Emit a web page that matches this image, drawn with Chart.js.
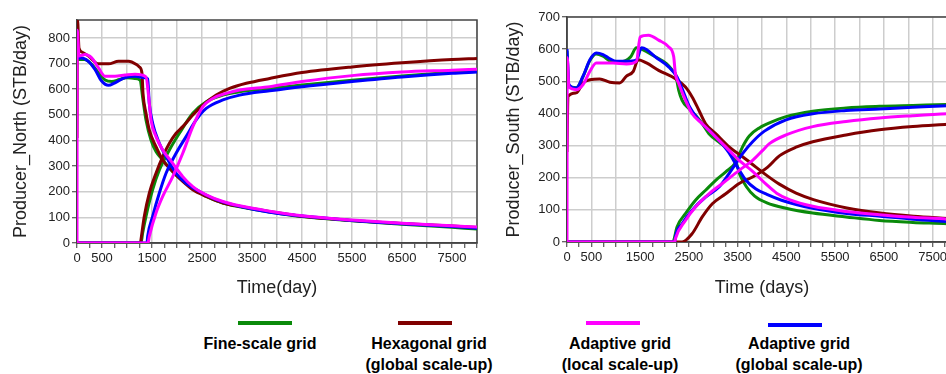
<!DOCTYPE html>
<html lang="en">
<head>
<meta charset="UTF-8" />
<title>Producer rates</title>
<script src="https://cdn.jsdelivr.net/npm/chart.js"></script>
<style>
    body { margin: 0; width: 946px; height: 374px; overflow: hidden; position: relative; background: #fff;
           font-family: "Liberation Sans", Arial, sans-serif; }
    canvas { position: absolute; top: 0; }
    #north { left: 0; }
    #south { left: 480px; }
    .swatch { position: absolute; width: 54px; height: 4px; }
    .label { position: absolute; width: 180px; text-align: center; font-weight: bold;
             font-size: 16px; line-height: 21px; color: #000; }
</style>
</head>
<body>
<canvas id="north" width="480" height="300"></canvas>
<canvas id="south" width="480" height="300"></canvas>
<div id="legend"></div>
<script>
// series: fine-scale, hexagonal, adaptive local, adaptive global
const seriesNames = [
    ['Fine-scale grid'],
    ['Hexagonal grid', '(global scale-up)'],
    ['Adaptive grid', '(local scale-up)'],
    ['Adaptive grid', '(global scale-up)']
];
const seriesColors = ['#0a8a0a', '#800000', '#ff00ff', '#0000ff'];

// Producer_North, [day, STB/day]
const northFineOil = [[0,716],[150,716],[300,696],[430,664],[560,636],[700,630],[850,638],[1000,645],[1150,642],[1260,636],[1320,558],[1380,480],[1480,402],[1580,357],[1714,324],[1848,292],[2048,253],[2316,214],[2584,182],[2918,156],[3252,141],[3854,121],[4500,103],[5500,87],[6500,73],[7500,61],[8000,55]];
const northHexOil = [[0,410],[10,870],[40,760],[100,745],[230,729],[430,699],[630,699],[830,709],[1030,709],[1190,696],[1246,687],[1300,661],[1320,584],[1380,506],[1446,441],[1580,376],[1714,324],[1915,279],[2115,240],[2316,208],[2584,182],[2918,156],[3252,143],[3854,123],[4500,104],[5500,88],[6500,76],[7500,66],[8000,60]];
const northLocalOil = [[0,0],[5,830],[40,730],[160,735],[293,722],[427,684],[560,651],[760,651],[960,655],[1160,658],[1380,648],[1433,571],[1480,480],[1580,415],[1714,363],[1915,311],[2115,259],[2316,220],[2584,188],[2918,162],[3252,145],[3854,124],[4500,106],[5500,90],[6500,77],[7500,67],[8000,62]];
const northGlobalOil = [[0,830],[15,722],[93,722],[227,709],[360,677],[493,632],[627,615],[760,625],[960,645],[1160,651],[1360,645],[1413,640],[1446,545],[1513,467],[1647,389],[1781,337],[1982,272],[2182,233],[2450,201],[2784,169],[3252,143],[3854,120],[4500,105],[5500,88],[6500,75],[7500,64],[8000,58]];
const northFineWater = [[0,0],[1280,0],[1313,39],[1380,104],[1513,208],[1647,285],[1848,363],[2048,428],[2316,506],[2584,551],[2918,577],[3252,590],[3854,603],[4500,616],[5500,635],[6500,652],[7500,666],[8000,672]];
const northHexWater = [[0,0],[1270,0],[1280,13],[1346,104],[1446,195],[1580,272],[1714,337],[1848,389],[1982,428],[2115,454],[2316,499],[2517,538],[2784,577],[3052,603],[3386,623],[3854,642],[4500,665],[5500,687],[6500,703],[7500,716],[8000,720]];
const northLocalWater = [[0,0],[1420,0],[1446,26],[1580,117],[1714,182],[1915,259],[2115,350],[2316,454],[2517,532],[2718,564],[2985,584],[3252,597],[3854,610],[4500,630],[5500,653],[6500,667],[7500,674],[8000,678]];
const northGlobalWater = [[0,0],[1400,0],[1413,26],[1513,104],[1647,195],[1781,272],[1982,350],[2182,415],[2383,480],[2584,525],[2918,558],[3252,577],[3854,594],[4500,610],[5500,630],[6500,648],[7500,662],[8000,667]];

// Producer_South, [day, STB/day]
const southFineOil = [[0,595],[40,485],[190,480],[330,515],[470,565],[600,585],[740,578],[900,562],[1100,560],[1300,575],[1425,604],[1560,598],[1770,580],[2040,555],[2189,530],[2223,524],[2292,472],[2361,441],[2500,415],[2636,394],[2774,368],[2912,337],[3118,311],[3325,285],[3463,250],[3540,212],[3680,172],[3850,143],[4100,122],[4493,105],[5041,90],[5726,78],[6410,67],[7095,61],[7800,57],[8000,55]];
const southHexOil = [[0,280],[20,453],[190,464],[330,495],[470,505],[670,507],[880,497],[1080,495],[1220,516],[1360,531],[1460,567],[1630,557],[1879,534],[2223,508],[2430,482],[2567,451],[2705,410],[2843,368],[3050,337],[3325,296],[3601,265],[3876,233],[4117,205],[4356,180],[4699,152],[5055,132],[5740,106],[6425,90],[7110,80],[7800,73],[8000,71]];
const southLocalOil = [[0,0],[5,573],[40,482],[190,474],[330,490],[470,531],[600,557],[945,557],[1220,554],[1425,562],[1500,638],[1672,643],[1879,628],[2085,607],[2189,576],[2223,524],[2292,493],[2430,441],[2567,399],[2774,368],[2981,337],[3256,296],[3532,254],[3807,220],[4083,180],[4300,152],[4575,131],[5041,111],[5726,95],[6410,85],[7095,77],[7800,71],[8000,68]];
const southGlobalOil = [[0,600],[40,490],[190,479],[330,516],[470,567],[600,588],[740,583],[880,570],[1010,562],[1220,562],[1425,567],[1530,604],[1630,599],[1810,576],[2085,545],[2257,513],[2361,477],[2500,425],[2705,379],[2912,348],[3118,316],[3325,277],[3497,233],[3670,192],[3876,165],[4100,148],[4400,130],[5041,105],[5740,89],[6425,80],[7095,71],[7800,64],[8000,62]];
const southFineWater = [[0,0],[2170,0],[2189,5],[2257,47],[2430,88],[2636,130],[2843,161],[3050,192],[3256,218],[3463,248],[3601,296],[3739,330],[3945,355],[4117,368],[4493,390],[5041,407],[5726,417],[6410,422],[7095,425],[7800,428],[8000,429]];
const southHexWater = [[0,0],[2361,0],[2567,26],[2774,78],[2981,119],[3256,150],[3532,182],[3807,202],[4117,233],[4356,268],[4699,295],[5041,312],[5726,333],[6410,349],[7095,359],[7800,366],[8000,368]];
const southLocalWater = [[0,0],[2210,0],[2223,10],[2430,67],[2636,109],[2912,150],[3187,182],[3532,223],[3807,254],[4014,285],[4152,306],[4493,333],[5041,359],[5726,375],[6410,386],[7095,393],[7800,399],[8000,400]];
const southGlobalWater = [[0,0],[2210,0],[2223,16],[2361,57],[2567,99],[2843,140],[3118,171],[3325,213],[3463,244],[3601,275],[3807,312],[4050,345],[4493,380],[5041,399],[5726,409],[6410,414],[7095,419],[7800,424],[8000,425]];

const dayTicks = [];
for (let d = 0; d <= 8000; d += 250) dayTicks.push(d);

const frame = {
    id: 'frame',
    beforeDatasetsDraw(chart) {
        const a = chart.chartArea, ctx = chart.ctx;
        ctx.save();
        ctx.strokeStyle = '#444';
        ctx.lineWidth = 1.5;
        ctx.strokeRect(a.left, a.top, a.right - a.left, a.bottom - a.top);
        ctx.restore();
    }
};

function line(data, color) {
    return { data: data, borderColor: color, backgroundColor: color, borderWidth: 3,
             pointRadius: 0, cubicInterpolationMode: 'monotone', fill: false };
}

function makeChart(id, oil, water, opt) {
    // draw order: index 0 ends on top
    const idx = [2, 3, 1, 0];
    const datasets = [];
    idx.forEach(i => {
        datasets.push(line(oil[i], seriesColors[i]));
        datasets.push(line(water[i], seriesColors[i]));
    });
    const yTicks = [];
    for (let v = 0; v <= opt.yTop; v += 100) yTicks.push(v);

    new Chart(document.getElementById(id), {
        type: 'line',
        data: { datasets: datasets },
        plugins: [frame],
        options: {
            responsive: false,
            animation: false,
            events: [],
            layout: { padding: { top: opt.top, right: 3, bottom: 0, left: 0 } },
            plugins: { legend: { display: false }, tooltip: { enabled: false } },
            scales: {
                x: {
                    type: 'linear', min: 0, max: 8000,
                    afterBuildTicks: s => { s.ticks = dayTicks.map(v => ({ value: v })); },
                    afterFit: s => { s.height = opt.xHeight; },
                    ticks: {
                        autoSkip: false, maxRotation: 0, padding: 3, color: '#222',
                        font: { family: 'Liberation Sans', size: 13 },
                        callback: v => (v === 0 || v % 1000 === 500) ? String(v) : ''
                    },
                    grid: {
                        lineWidth: 1.5, tickLength: 5, tickWidth: 1,
                        color: c => (c.tick && c.tick.value % 500 === 0) ? '#cdcdcd' : 'rgba(0,0,0,0)',
                        tickColor: '#333'
                    },
                    border: { color: '#444', width: 1.5 },
                    title: { display: true, text: opt.xTitle, color: '#222',
                             font: { family: 'Liberation Sans', size: 18 }, padding: { top: 0, bottom: 1 } }
                },
                y: {
                    min: 0, max: opt.yMax,
                    afterBuildTicks: s => { s.ticks = yTicks.map(v => ({ value: v })); },
                    afterFit: s => { s.width = opt.yWidth; },
                    ticks: { padding: 2, color: '#222', font: { family: 'Liberation Sans', size: 13 } },
                    grid: { lineWidth: 1.5, tickLength: 5, tickWidth: 1, color: '#cdcdcd', tickColor: '#333' },
                    border: { color: '#444', width: 1.5 },
                    title: { display: true, text: opt.yTitle, color: '#222',
                             font: { family: 'Liberation Sans', size: 18 }, padding: { top: opt.yTitlePad, bottom: 0 } }
                }
            }
        }
    });
}

makeChart('north',
    [northFineOil, northHexOil, northLocalOil, northGlobalOil],
    [northFineWater, northHexWater, northLocalWater, northGlobalWater],
    { yMax: 870, yTop: 800, top: 20, yWidth: 77, xHeight: 57, yTitlePad: 10,
      xTitle: 'Time(day)', yTitle: 'Producer_North (STB/day)' });

makeChart('south',
    [southFineOil, southHexOil, southLocalOil, southGlobalOil],
    [southFineWater, southHexWater, southLocalWater, southGlobalWater],
    { yMax: 700, yTop: 700, top: 17, yWidth: 87, xHeight: 58, yTitlePad: 23,
      xTitle: 'Time (days)', yTitle: 'Producer_South (STB/day)' });

// legend under both charts
const swatchX = [238, 398, 586, 768];
const labelX = [260, 429, 620, 799];
const legend = document.getElementById('legend');
seriesNames.forEach((name, i) => {
    const sw = document.createElement('div');
    sw.className = 'swatch';
    sw.style.left = swatchX[i] + 'px';
    sw.style.top = (i === 3 ? 323 : 321) + 'px';
    sw.style.background = seriesColors[i];
    legend.appendChild(sw);
    const lb = document.createElement('div');
    lb.className = 'label';
    lb.style.left = (labelX[i] - 90) + 'px';
    lb.style.top = '333px';
    lb.innerHTML = name.join('<br>');
    legend.appendChild(lb);
});
</script>
</body>
</html>
